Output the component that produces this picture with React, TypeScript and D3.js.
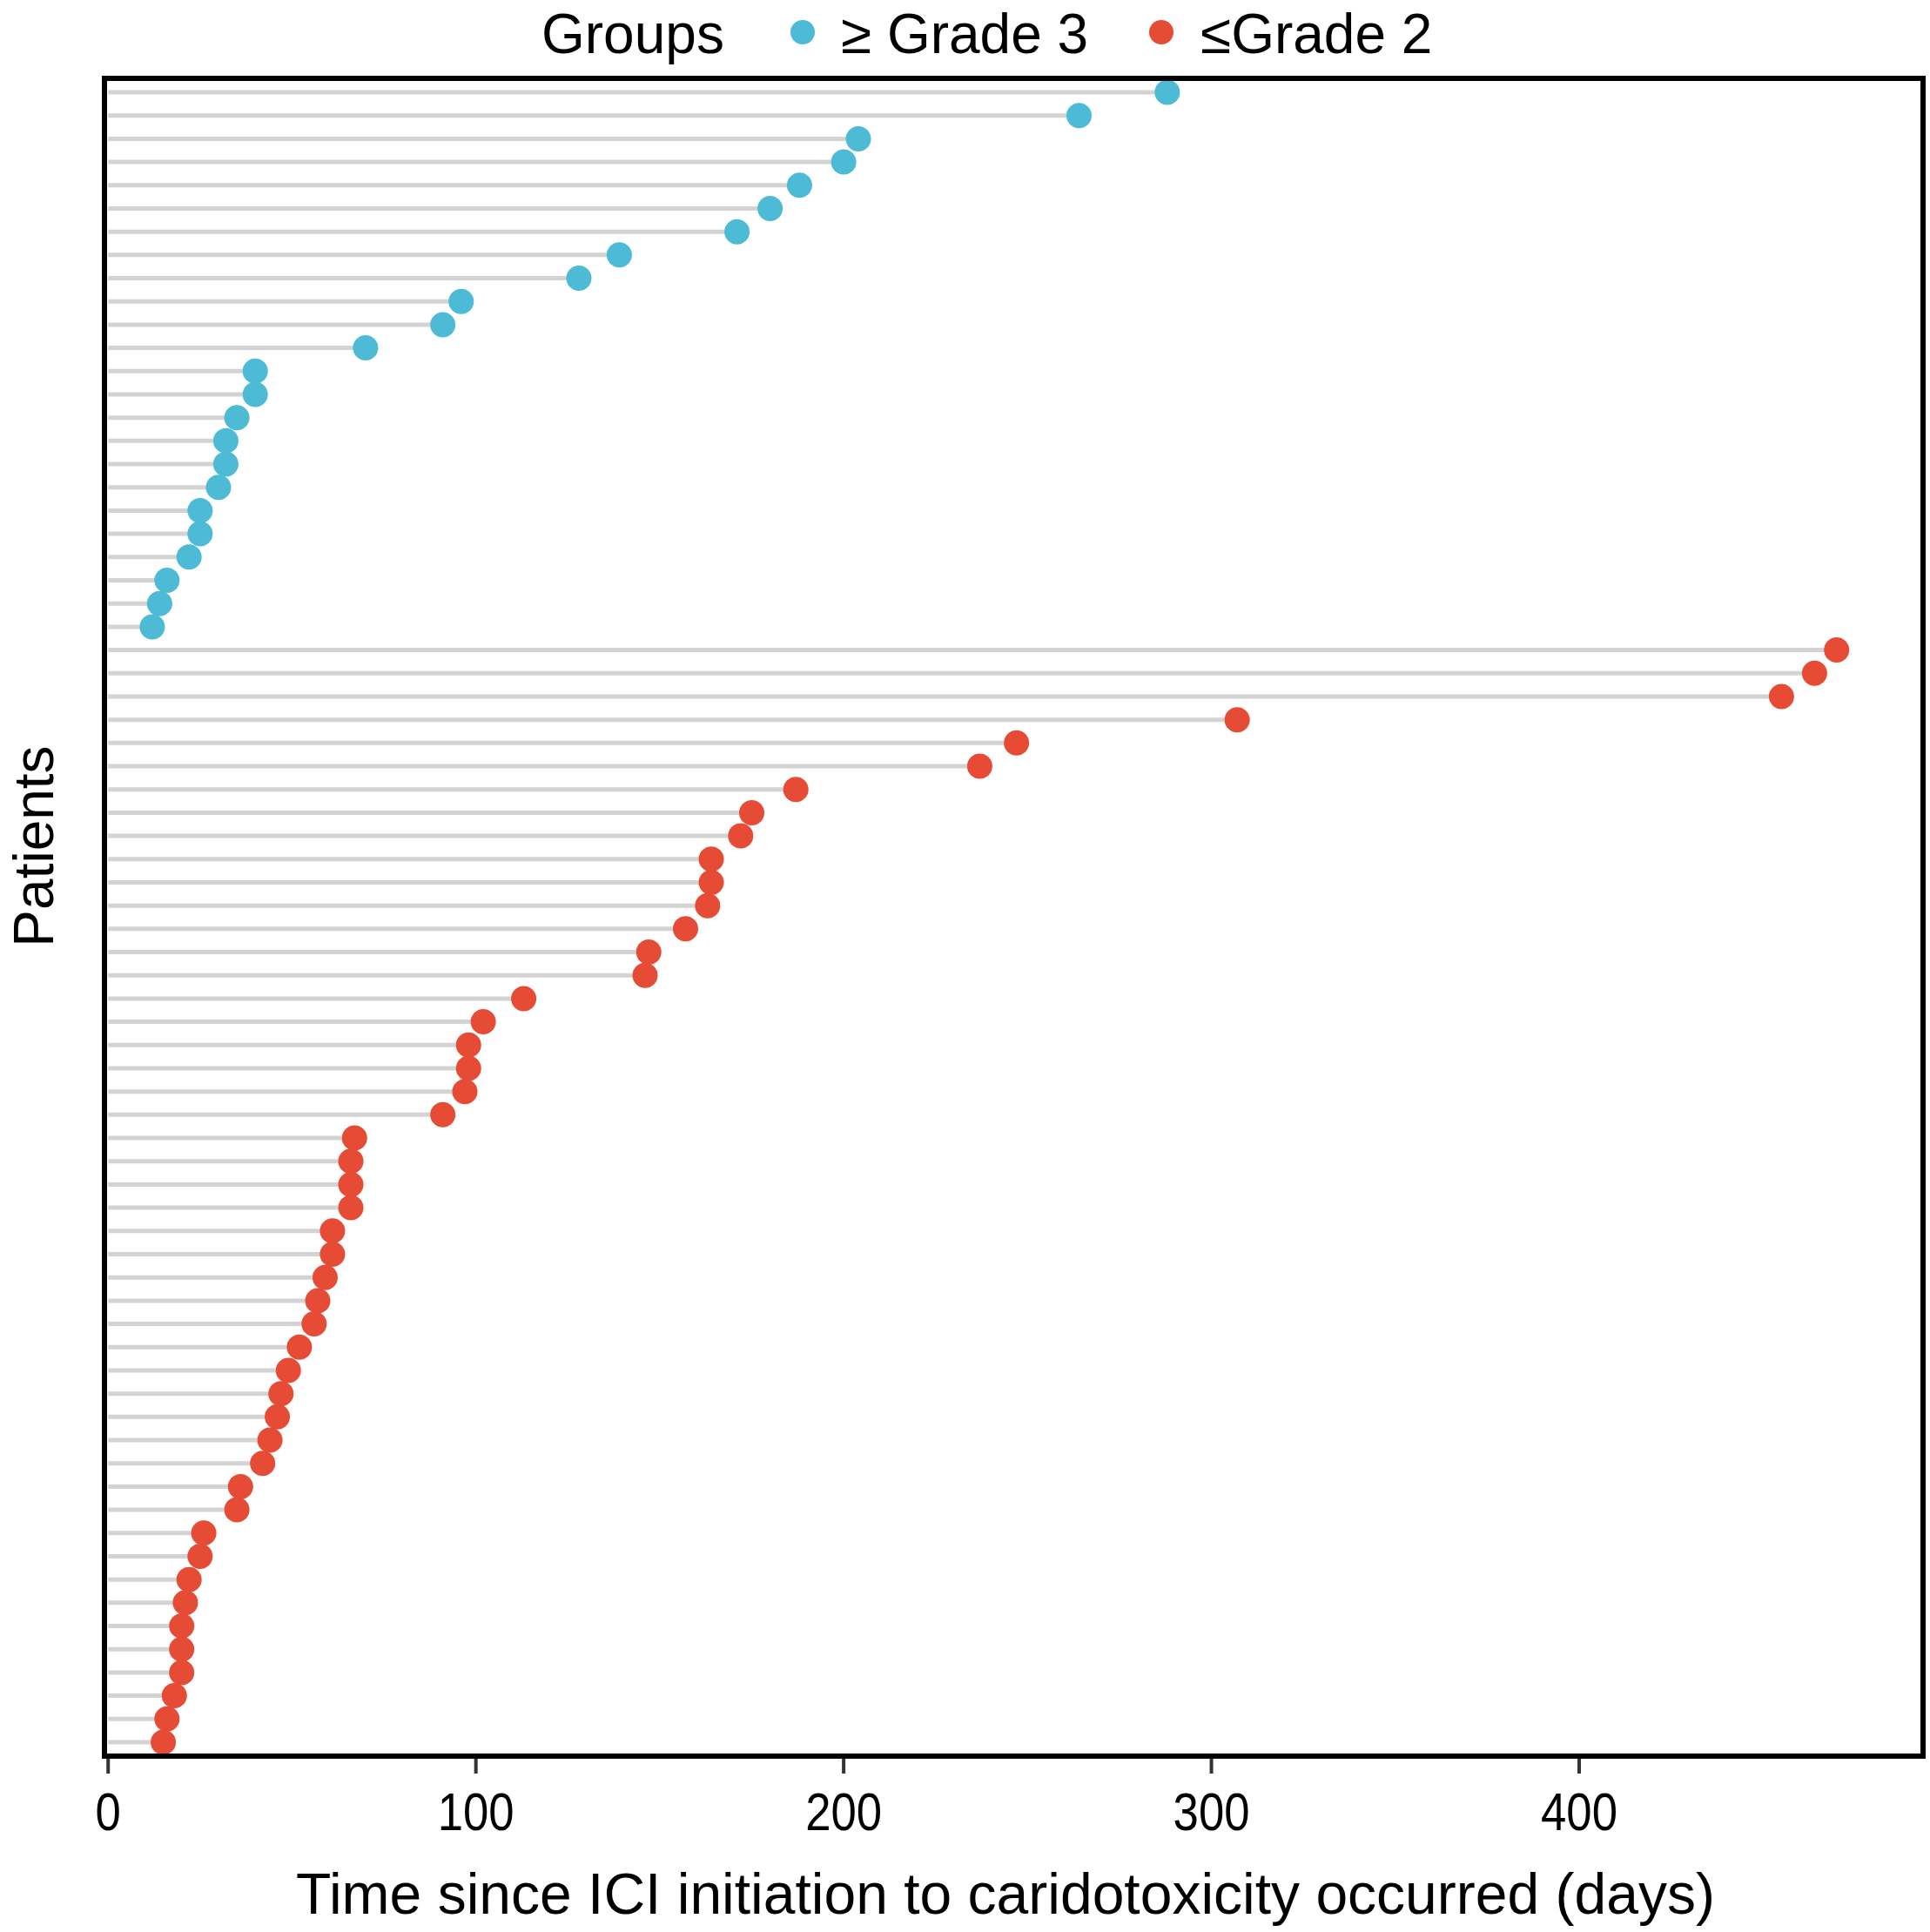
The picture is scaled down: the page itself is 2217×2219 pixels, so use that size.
import * as d3 from 'd3';

// days from ICI start to cardiotoxicity, one entry per patient, top to bottom
const grade3Days = [
  288, 264, 204, 200, 188, 180, 171, 139, 128, 96, 91, 70,
  40, 40, 35, 32, 32, 30, 25, 25, 22, 16, 14, 12,
];
const grade2Days = [
  470, 464, 455, 307, 247, 237, 187, 175, 172, 164, 164, 163,
  157, 147, 146, 113, 102, 98, 98, 97, 91, 67, 66, 66,
  66, 61, 61, 59, 57, 56, 52, 49, 47, 46, 44, 42,
  36, 35, 26, 25, 22, 21, 20, 20, 20, 18, 16, 15,
];
const groupNames = ['≥ Grade 3', '≤Grade 2'];
const groupColors = ['#4DBBD5', '#E64B35'];
const xTicks = [0, 100, 200, 300, 400];

const W = 2217;
const H = 2219;
const panel = { left: 120, right: 2209, top: 90, bottom: 2017 };
const FONT = '"Liberation Sans", Arial, Helvetica, sans-serif';

export default function App() {
  const rows = [
    ...grade3Days.map((d, i) => ({ id: `g3-${i}`, days: d, group: 0 })),
    ...grade2Days.map((d, i) => ({ id: `g2-${i}`, days: d, group: 1 })),
  ];

  const x = d3.scaleLinear().domain([-1, 493.5]).range([panel.left, panel.right]);
  const y = d3.scalePoint<string>()
    .domain(rows.map(r => r.id))
    .range([panel.top, panel.bottom])
    .padding(0.6);

  const legendY = 37;
  const legendBase = 61;

  return (
    <svg
      width={W}
      height={H}
      style={{ position: 'absolute', left: 0, top: 0, background: '#fff' }}
      fontFamily={FONT}
    >
      <rect x={0} y={0} width={W} height={H} fill="#fff" />

      {/* legend */}
      <text x={622} y={legendBase} fontSize={64} fill="#000">Groups</text>
      <circle cx={922} cy={legendY} r={14} fill={groupColors[0]} />
      <text x={966} y={legendBase} fontSize={64} fill="#000">{groupNames[0]}</text>
      <circle cx={1334} cy={legendY} r={14} fill={groupColors[1]} />
      <text x={1379} y={legendBase} fontSize={64} fill="#000">{groupNames[1]}</text>

      {/* segments */}
      {rows.map(r => (
        <line
          key={`s-${r.id}`}
          x1={x(0)}
          x2={x(r.days)}
          y1={y(r.id)}
          y2={y(r.id)}
          stroke="#d3d3d3"
          strokeWidth={5}
        />
      ))}

      {/* dots */}
      {rows.map(r => (
        <circle
          key={`p-${r.id}`}
          cx={x(r.days)}
          cy={y(r.id)}
          r={14.5}
          fill={groupColors[r.group]}
        />
      ))}

      {/* panel border */}
      <rect
        x={panel.left}
        y={panel.top}
        width={panel.right - panel.left}
        height={panel.bottom - panel.top}
        fill="none"
        stroke="#000"
        strokeWidth={6}
      />

      {/* x axis */}
      {xTicks.map(t => (
        <g key={`t-${t}`}>
          <line x1={x(t)} x2={x(t)} y1={panel.bottom + 3} y2={panel.bottom + 20} stroke="#333" strokeWidth={4} />
          <text
            transform={`translate(${x(t)},2102) scale(0.85,1)`}
            textAnchor="middle"
            fontSize={62}
            fill="#000"
          >
            {t}
          </text>
        </g>
      ))}

      <text x={1155} y={2198} textAnchor="middle" fontSize={66} fill="#000">
        Time since ICI initiation to caridotoxicity occurred (days)
      </text>

      <text transform="translate(61,972) rotate(-90)" textAnchor="middle" fontSize={64} fill="#000">
        Patients
      </text>
    </svg>
  );
}
